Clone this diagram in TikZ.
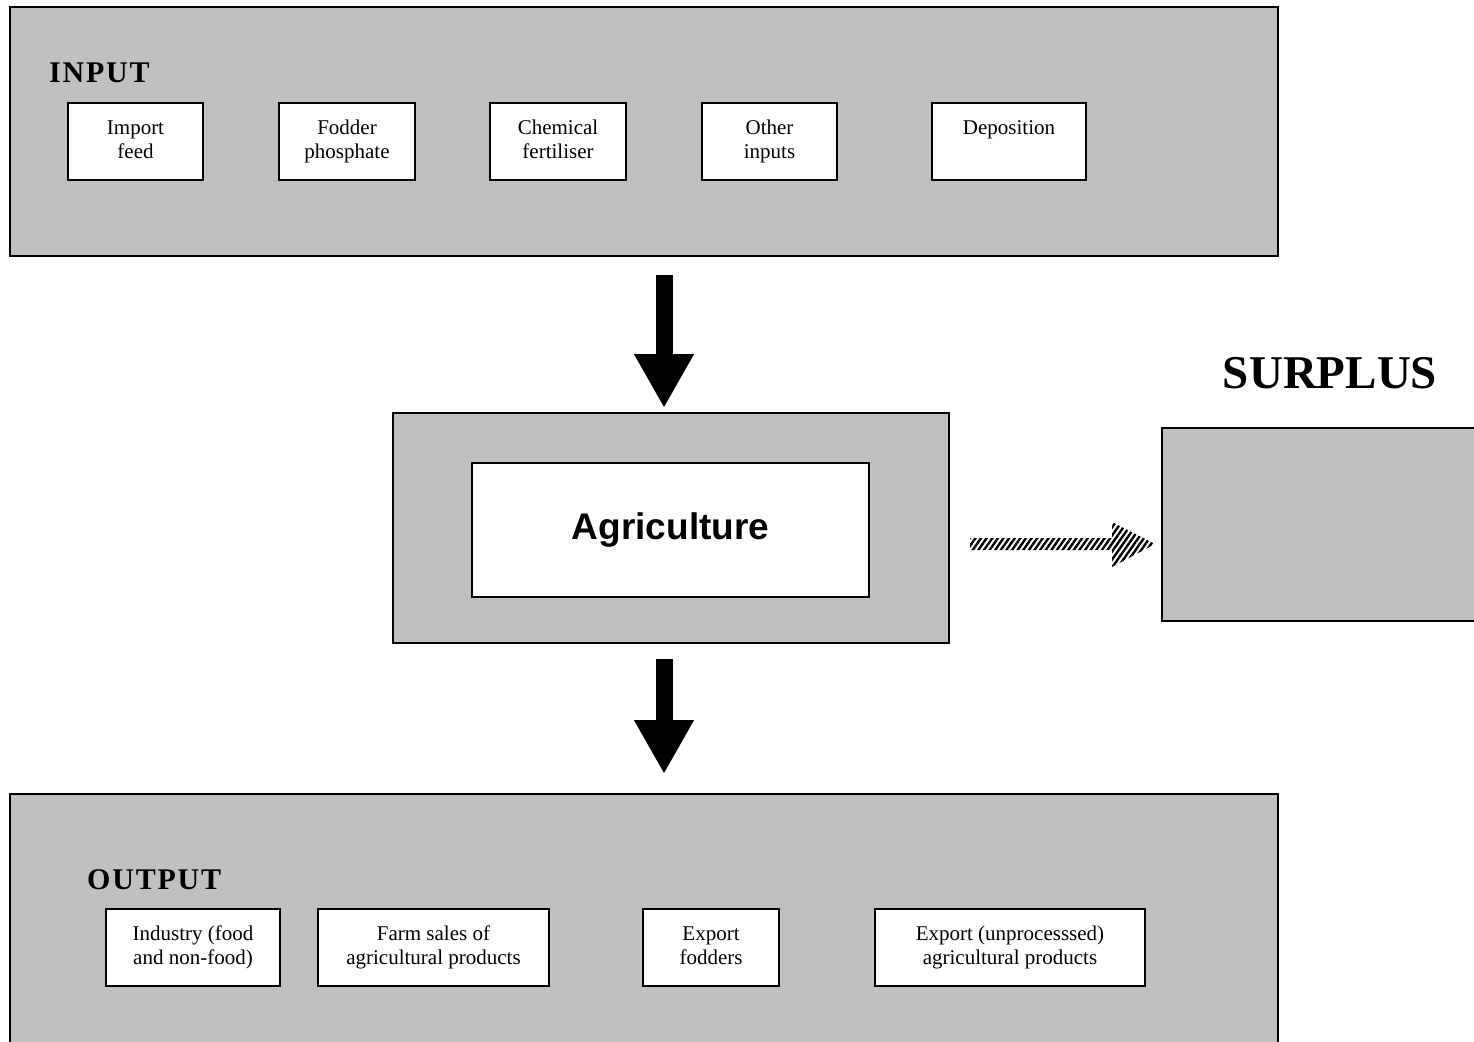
\documentclass[tikz,border=0pt]{standalone}
\usepackage{fontspec}
\setmainfont{Liberation Serif}
\newfontfamily\headsans{Liberation Sans}
\newfontfamily\spacedserif[LetterSpace=6]{Liberation Serif}
\usetikzlibrary{arrows.meta,patterns.meta}
\definecolor{panelgray}{HTML}{C0C0C0}
% two struts-aligned lines inside a small box
\newcommand\pairlines[2]{\strut#1\\\strut#2}
\begin{document}
\begin{tikzpicture}[x=1pt,y=-1pt,
  panel/.style={draw, fill=panelgray, line width=2pt, inner sep=0pt},
  item/.style={draw, fill=white, line width=1.6pt, inner sep=0pt, align=center,
    minimum height=77pt, font=\fontsize{21}{24}\selectfont},
  heading/.style={anchor=base west, inner sep=0pt,
    font=\spacedserif\bfseries\fontsize{30}{36}\selectfont},
  bigarrow/.style={line width=17pt, -{Triangle[length=54pt,width=56pt]}},
  stripes/.style={pattern={Lines[angle=55,distance=4.6pt,line width=2.4pt]}},
]
\clip (0,0) rectangle (1474,1041);

% input panel
\node[panel, minimum width=1268pt, minimum height=249pt] (input) at (644,131.5) {};
\node[heading] (inlabel) at (49,82) {INPUT};
\node[item, minimum width=135pt] (feed) at (135.5,141.5) {\pairlines{Import}{feed}};
\node[item, minimum width=136pt] (phos) at (347,141.5) {\pairlines{Fodder}{phosphate}};
\node[item, minimum width=136pt] (fert) at (558,141.5) {\pairlines{Chemical}{fertiliser}};
\node[item, minimum width=135pt] (other) at (769.5,141.5) {\pairlines{Other}{inputs}};
\node[item, minimum width=154pt] (depo) at (1009,141.5) {\pairlines{Deposition}{}};

% agriculture
\node[panel, minimum width=556pt, minimum height=230pt] (agrio) at (671,528) {};
\node[draw, fill=white, line width=1.6pt, minimum width=397pt, minimum height=134pt,
  font=\headsans\bfseries\fontsize{37}{44}\selectfont] (agri) at (670.5,530) {Agriculture};

% surplus
\node[font=\bfseries\fontsize{47}{56}\selectfont, anchor=base, inner sep=0pt]
  (surlabel) at (1330,388) {SURPLUS};
\node[panel, minimum width=328pt, minimum height=193pt] (surplus) at (1326,524.5) {};

% output panel
\node[panel, minimum width=1268pt, minimum height=266pt] (output) at (644,927) {};
\node[heading] (outlabel) at (87,889) {OUTPUT};
\node[item, minimum width=174pt] (ind) at (193,947.5) {\pairlines{Industry (food}{and non-food)}};
\node[item, minimum width=231pt] (farm) at (433.5,947.5) {\pairlines{Farm sales of}{agricultural products}};
\node[item, minimum width=136pt] (expf) at (711,947.5) {\pairlines{Export}{fodders}};
\node[item, minimum width=270pt] (expa) at (1010,947.5) {\pairlines{Export (unprocesssed)}{agricultural products}};

% flows
\coordinate (d1s) at (664,275);
\coordinate (d1e) at (664,408);
\coordinate (d2s) at (664,659);
\coordinate (d2e) at (664,774);
\draw[bigarrow] (d1s) -- (d1e);
\draw[bigarrow] (d2s) -- (d2e);

\coordinate (ss) at (970,544);
\coordinate (st) at (1155,544);
\fill[stripes] (ss) ++(0,-6) -- ++(142,0) -- ++(0,-16) -- (st)
  -- ++(-43,23) -- ++(0,-17) -- ++(-142,0) -- cycle;
\end{tikzpicture}
\end{document}
